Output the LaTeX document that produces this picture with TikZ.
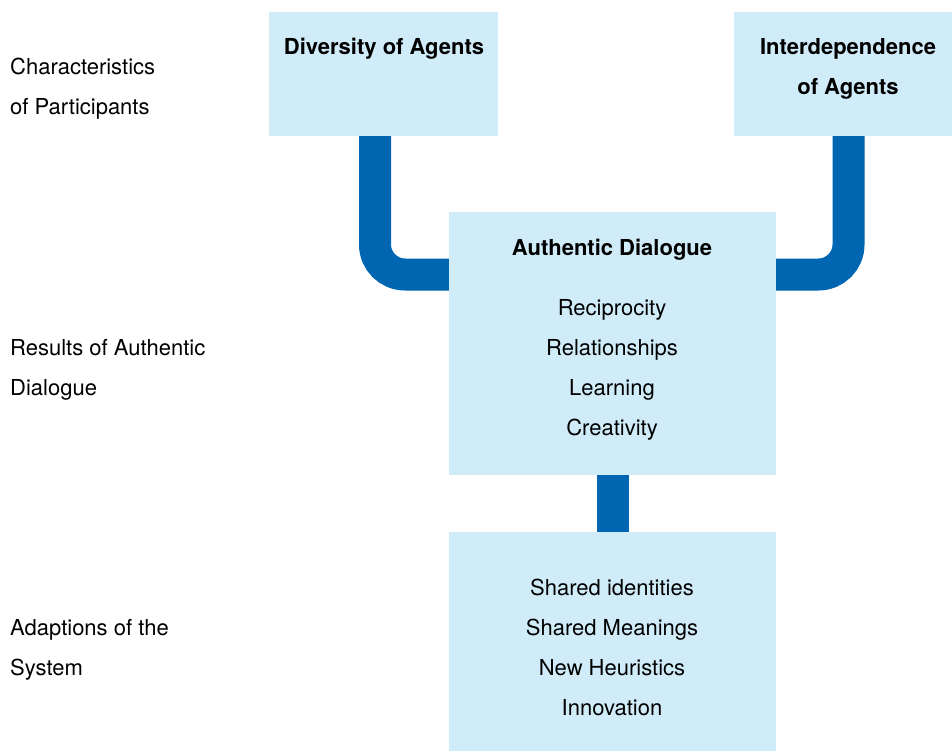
\documentclass[tikz,border=0pt]{standalone}
\usepackage{fontspec}
\setmainfont{TeX Gyre Heros}
\definecolor{boxblue}{HTML}{D1ECF9}
\definecolor{linkblue}{HTML}{0066B1}
\begin{document}
\begin{tikzpicture}[x=1pt, y=-1pt,
    box/.style={fill=boxblue, draw=none, inner sep=0pt},
    link/.style={draw=linkblue, line width=32pt, rounded corners=30pt},
    txt/.style={anchor=base, font=\fontsize{22}{26}\selectfont, inner sep=0pt},
    head/.style={txt, font=\fontsize{22}{26}\selectfont\bfseries},
    side/.style={txt, anchor=base west}]
    \useasboundingbox (0,0) rectangle (952,751);

    % First the light boxes
    \node[box, minimum width=229pt, minimum height=124pt] (diversity) at (383.5,74) {};
    \node[box, minimum width=218pt, minimum height=124pt] (interdep) at (843,74) {};
    \node[box, minimum width=327pt, minimum height=263pt] (dialogue) at (612.5,343.5) {};
    \node[box, minimum width=327pt, minimum height=219pt] (adaption) at (612.5,641.5) {};

    % Then the thick connectors between them
    \coordinate (lbend) at (375,274.5);
    \coordinate (rbend) at (848.5,274.5);
    \draw[link] (lbend |- diversity.south) |- (dialogue.west |- lbend);
    \draw[link] (rbend |- interdep.south) |- (dialogue.east |- rbend);
    \draw[link] (dialogue.south) -- (adaption.north);

    % Row titles on the left
    \node[side] (charA) at (10,75) {Characteristics};
    \node[side] (charB) at (10,115) {of Participants};
    \node[side] (resA) at (10,355) {Results of Authentic};
    \node[side] (resB) at (10,395) {Dialogue};
    \node[side] (adaA) at (10,635) {Adaptions of the};
    \node[side] (adaB) at (10,675) {System};

    % Box headings
    \node[head] (divtext) at (384,55) {Diversity of Agents};
    \node[head] (intA) at (848,55) {Interdependence};
    \node[head] (intB) at (848,95) {of Agents};
    \node[head] (diatext) at (612,255) {Authentic Dialogue};

    % Box contents
    \node[txt] (recip) at (612,315) {Reciprocity};
    \node[txt] (relat) at (612,355) {Relationships};
    \node[txt] (learn) at (612,395) {Learning};
    \node[txt] (creat) at (612,435) {Creativity};
    \node[txt] (ident) at (612,595) {Shared identities};
    \node[txt] (mean) at (612,635) {Shared Meanings};
    \node[txt] (heur) at (612,675) {New Heuristics};
    \node[txt] (innov) at (612,715) {Innovation};
\end{tikzpicture}
\end{document}
